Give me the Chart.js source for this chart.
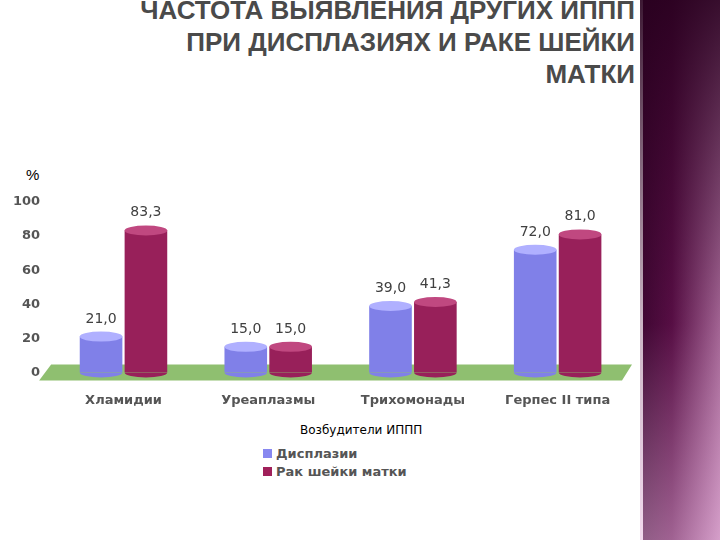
<!DOCTYPE html>
<html><head><meta charset="utf-8">
<script src="https://cdn.jsdelivr.net/npm/chart.js@4"></script>
<style>
body{margin:0;width:720px;height:540px;background:#fff;position:relative;overflow:hidden;font-family:"Liberation Sans",Arial,sans-serif}
#band{position:absolute;left:640px;top:0;width:80px;height:540px;background:linear-gradient(90deg,#fff 0,#fff 3px,#3a0630 3px,#5a1048 40%,#c58ab8 100%)}
#band2{position:absolute;left:640px;top:0;width:80px;height:540px;background:linear-gradient(180deg,rgba(40,0,30,0.9) 0,rgba(80,10,60,0.3) 60%,rgba(230,180,220,0.5) 100%)}
#title{position:absolute;right:85px;top:-6px;text-align:right;font-weight:bold;font-size:26px;line-height:32px;color:#4a4a4a}
#pct{position:absolute;left:26px;top:166px;font-size:15px;color:#000}
#axt{position:absolute;left:300px;top:423px;font-size:12px;color:#000;font-family:"DejaVu Sans"}
.lg{position:absolute;left:263px;font-size:13px;font-weight:bold;color:#555;font-family:"DejaVu Sans"}
.lg span{display:inline-block;width:9px;height:9px;margin-right:4px}
canvas{position:absolute;left:0;top:0}
</style></head><body>
<div id="band"></div><div id="band2"></div>
<div id="title">ЧАСТОТА ВЫЯВЛЕНИЯ ДРУГИХ ИППП<br>ПРИ ДИСПЛАЗИЯХ И РАКЕ ШЕЙКИ<br>МАТКИ</div>
<div id="pct">%</div>
<div id="axt">Возбудители ИППП</div>
<div class="lg" style="top:446px"><span style="background:#8888f0"></span>Дисплазии</div>
<div class="lg" style="top:464px"><span style="background:#a0205a"></span>Рак шейки матки</div>
<div style="position:absolute;left:0;top:0;width:640px;height:420px"><canvas id="c"></canvas></div>
<script>
const categories=["Хламидии","Уреаплазмы","Трихомонады","Герпес II типа"];
const dysplasia=[21.0,15.0,39.0,72.0];
const cancer=[83.3,15.0,41.3,81.0];
const yTicks=[0,20,40,60,80,100];
const fmt=v=>v.toFixed(1).replace('.',',');
const deco={id:'deco',
beforeDatasetsDraw(ch){const {ctx,chartArea:a,scales:{y}}=ch;const y0=y.getPixelForValue(0);
ctx.save();ctx.fillStyle='#8fbf70';ctx.beginPath();ctx.moveTo(a.left-12,y0+8);ctx.lineTo(a.right-8,y0+8);ctx.lineTo(a.right+2,y0-8);ctx.lineTo(a.left,y0-8);ctx.closePath();ctx.fill();ctx.restore();},
afterDatasetsDraw(ch){const ctx=ch.ctx;ctx.save();
ch.data.datasets.forEach((ds,i)=>{const top=i?'#c04880':'#b0b0ff';ch.getDatasetMeta(i).data.forEach((b,j)=>{
ctx.fillStyle=top;ctx.beginPath();ctx.ellipse(b.x,b.y,b.width/2,5,0,0,Math.PI*2);ctx.fill();
ctx.fillStyle=ds.backgroundColor;ctx.beginPath();ctx.ellipse(b.x,b.base,b.width/2,5,0,0,Math.PI);ctx.fill();
ctx.fillStyle='#404040';ctx.font='14px "DejaVu Sans"';ctx.textAlign='center';ctx.fillText(fmt(ds.data[j]),b.x,b.y-14);});});
ctx.restore();}};
new Chart(document.getElementById('c'),{type:'bar',
data:{labels:categories,datasets:[{label:'Дисплазии',data:dysplasia,backgroundColor:'#8080e8'},{label:'Рак шейки матки',data:cancer,backgroundColor:'#98205a'}]},
options:{responsive:true,maintainAspectRatio:false,animation:false,
layout:{padding:{top:202,right:10,left:10}},
plugins:{legend:{display:false},tooltip:{enabled:false}},
datasets:{bar:{categoryPercentage:0.62,barPercentage:0.95}},
scales:{x:{grid:{display:false},border:{display:false},ticks:{color:'#555',font:{family:'DejaVu Sans',size:13,weight:'bold'},padding:12}},
y:{min:0,max:100,afterBuildTicks:s=>{s.ticks=yTicks.map(v=>({value:v}))},grid:{display:false},border:{display:false},ticks:{color:'#555',font:{family:'DejaVu Sans',size:13,weight:'bold'}}}}},
plugins:[deco]});
</script></body></html>
